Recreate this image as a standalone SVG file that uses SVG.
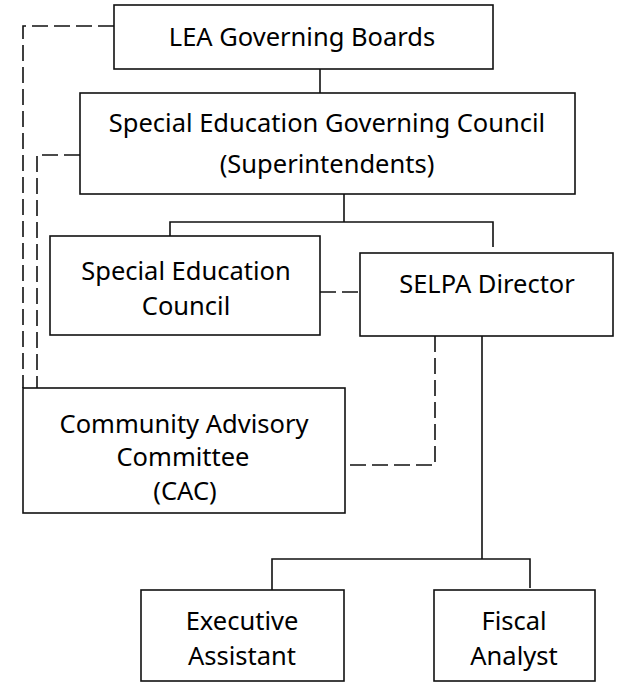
<svg xmlns="http://www.w3.org/2000/svg" width="622" height="684" viewBox="0 0 622 684">
<style>
.box{fill:#fff;stroke:#111;stroke-width:1.6}
.ln{fill:none;stroke:#111;stroke-width:1.6}
.dl{fill:none;stroke:#111;stroke-width:1.6;stroke-dasharray:16 6}
text{font-family:"Comic Sans MS","Noto Sans",sans-serif;font-size:25.5px;fill:#000;text-anchor:middle}
</style>
<rect width="622" height="684" fill="#fff"/>
<g id="connectors">
<path class="ln" d="M320 69V93"/>
<path class="ln" d="M344 194V222M170 236V222H493V247"/>
<path class="dl" d="M320 292H360"/>
<path class="dl" d="M435 336V465H345"/>
<path class="ln" d="M482 336V559M272 590V559H530V588"/>
<path class="dl" d="M114 26H23V388"/>
<path class="dl" d="M80 155H37V388"/>
</g>
<g id="lea"><rect class="box" x="114" y="5" width="379" height="64"/><text x="302" y="46">LEA Governing Boards</text></g>
<g id="segc"><rect class="box" x="80" y="93" width="495" height="101"/><text x="327" y="132">Special Education Governing Council</text><text x="327" y="173">(Superintendents)</text></g>
<g id="sec"><rect class="box" x="50" y="236" width="270" height="99"/><text x="186" y="280">Special Education</text><text x="186" y="315">Council</text></g>
<g id="selpa"><rect class="box" x="360" y="253" width="253" height="83"/><text x="487" y="293">SELPA Director</text></g>
<g id="cac"><rect class="box" x="23" y="388" width="322" height="125"/><text x="184" y="433">Community Advisory</text><text x="183" y="466">Committee</text><text x="185" y="500">(CAC)</text></g>
<g id="exec"><rect class="box" x="141" y="590" width="203" height="91"/><text x="242" y="630">Executive</text><text x="242" y="665">Assistant</text></g>
<g id="fiscal"><rect class="box" x="434" y="590" width="161" height="91"/><text x="514" y="630">Fiscal</text><text x="514" y="665">Analyst</text></g>
</svg>
